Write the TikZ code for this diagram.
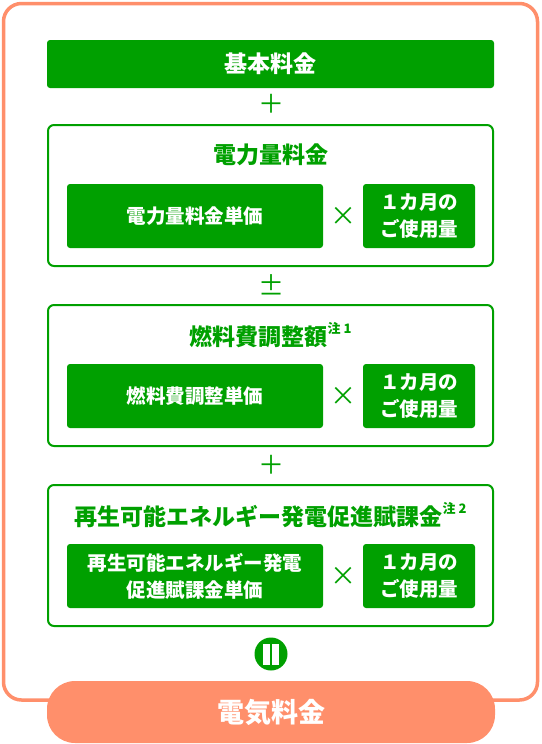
\documentclass[tikz,border=0pt]{standalone}
\usepackage{fontspec}
\setmainfont{Noto Sans CJK JP}
\usetikzlibrary{positioning}
\definecolor{dgreen}{RGB}{0,160,0}
\definecolor{salmon}{RGB}{255,143,107}
\newcommand{\chunote}[1]{\raisebox{0.5em}{\fontsize{13}{13}\selectfont 注 #1}}

\begin{document}
\begin{tikzpicture}[x=1pt, y=-1pt, every node/.style={font=\bfseries, inner sep=0pt},
	greenbox/.style={fill=dgreen, text=white, rounded corners=3pt, align=center},
	framebox/.style={draw=dgreen, line width=2pt, rounded corners=6pt, minimum width=445pt, minimum height=141pt},
	title/.style={text=dgreen, font=\bfseries\fontsize{23}{27}\selectfont},
	sign/.style={text=dgreen, font=\fontsize{26}{26}\selectfont}]
	\useasboundingbox (0,0) rectangle (541,744);
	\draw[salmon, line width=3.5pt, rounded corners=18pt] (3.5,3.5) rectangle (537.5,700);
	\node[greenbox, minimum width=447pt, minimum height=48pt, font=\bfseries\fontsize{23}{27}\selectfont] (base) at (270.5,64) {基本料金};
	\foreach \i/\yy/\ttl/\unitp in {1/0/{電力量料金}/{電力量料金単価},
		2/180/{燃料費調整額\chunote{1}}/{燃料費調整単価},
		3/360/{再生可能エネルギー発電促進賦課金\chunote{2}}/{再生可能エネルギー発電\\促進賦課金単価}} {
		\node[framebox] (box\i) at (270.5,195.5+\yy) {};
		\node[title] (title\i) at (270.5,155+\yy) {\ttl};
		\node[greenbox, minimum width=256pt, minimum height=64pt, font=\bfseries\fontsize{19.5}{27}\selectfont] (price\i) at (195,216+\yy) {\unitp};
		\node[sign] (times\i) at (343,216+\yy) {×};
		\node[greenbox, minimum width=112pt, minimum height=64pt, font=\bfseries\fontsize{19.5}{27}\selectfont] (usage\i) at (419,216+\yy) {１カ月の\\ご使用量};
	}
	\node[sign] (plus1) at (271,104) {＋};
	\node[sign] (pm) at (271,285) {±};
	\node[sign] (plus2) at (271,465) {＋};
	\node[circle, fill=dgreen, minimum size=33pt] (eq) at (271,654) {};
	\fill[white] ([xshift=-8.25pt, yshift=10.5pt]eq.center) rectangle ++(7,21);
	\fill[white] ([xshift=1.25pt, yshift=10.5pt]eq.center) rectangle ++(7,21);
	\node[fill=salmon, text=white, rounded corners=28pt, minimum width=448pt, minimum height=62pt, font=\bfseries\fontsize{27}{31}\selectfont] (total) at (271,712) {電気料金};
\end{tikzpicture}
\end{document}
